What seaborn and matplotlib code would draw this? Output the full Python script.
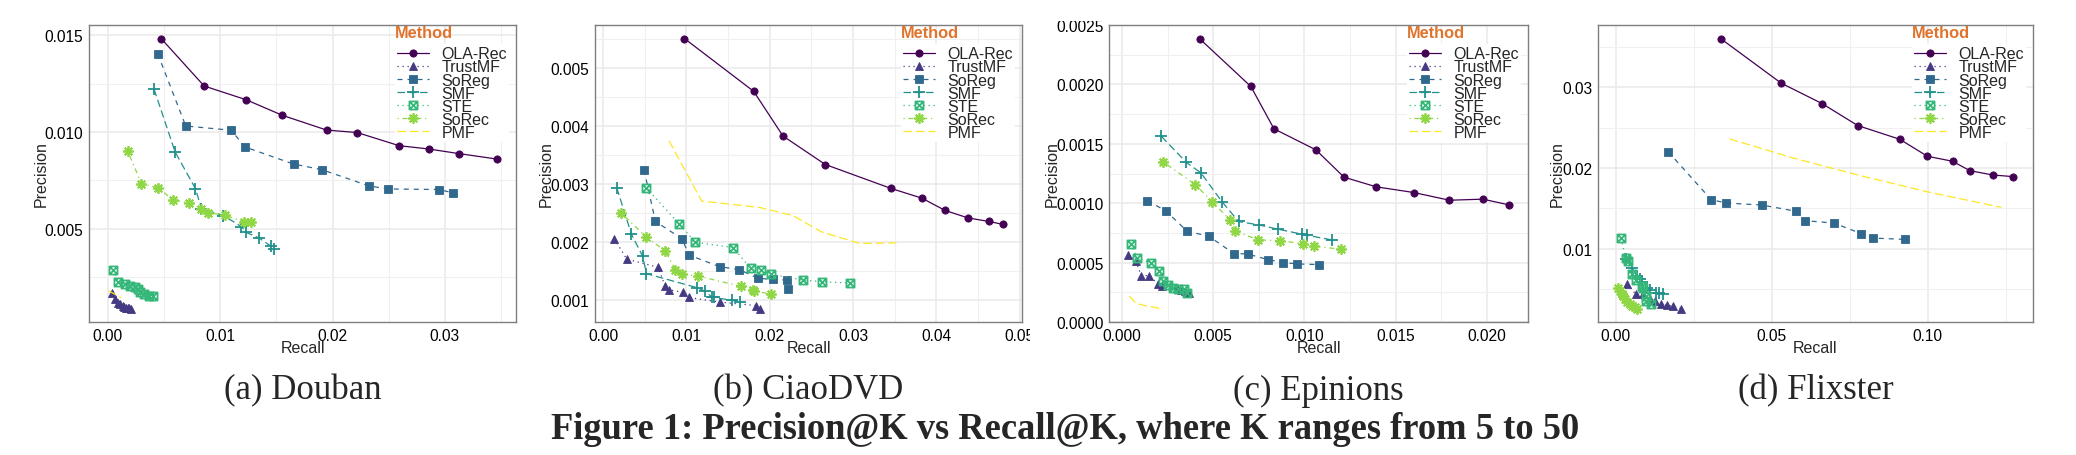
import pandas as pd
import matplotlib
matplotlib.use("Agg")
import matplotlib.pyplot as plt
import matplotlib.transforms as mtransforms
import seaborn as sns
from matplotlib.path import Path
from matplotlib.ticker import FixedLocator, MultipleLocator, FormatStrFormatter

# -----------------------------
# Data
# -----------------------------
METHODS = ["OLA-Rec", "TrustMF", "SoReg", "SMF", "STE", "SoRec", "PMF"]

douban_recall = {
    "OLA-Rec": [0.00475, 0.00858, 0.01231, 0.01555, 0.01947, 0.0222, 0.02593, 0.02855, 0.03125, 0.0346],
    "TrustMF": [0.00042, 0.00068, 0.00089, 0.00113, 0.00134, 0.00148, 0.00163, 0.00178, 0.00193, 0.00205],
    "SoReg": [0.00445, 0.00694, 0.01098, 0.01223, 0.01653, 0.01905, 0.02323, 0.0249, 0.0295, 0.03068],
    "SMF": [0.00412, 0.00599, 0.0078, 0.00834, 0.0103, 0.0119, 0.01231, 0.01344, 0.01451, 0.01475],
    "STE": [0.0005, 0.00095, 0.00154, 0.00202, 0.00243, 0.00267, 0.00291, 0.00326, 0.00365, 0.004],
    "SoRec": [0.00178, 0.003, 0.00451, 0.00582, 0.00724, 0.00828, 0.00896, 0.01039, 0.01214, 0.01276],
    "PMF": [0.00006, 0.0012],
}
douban_precision = {
    "OLA-Rec": [0.01484, 0.01238, 0.01167, 0.01086, 0.0101, 0.00997, 0.00929, 0.00912, 0.00888, 0.0086],
    "TrustMF": [0.00166, 0.00135, 0.00117, 0.00107, 0.00097, 0.00093, 0.0009, 0.00088, 0.00088, 0.00086],
    "SoReg": [0.01405, 0.01031, 0.01009, 0.00922, 0.00834, 0.00805, 0.00721, 0.00705, 0.00702, 0.00685],
    "SMF": [0.01222, 0.00897, 0.00707, 0.00603, 0.00567, 0.0051, 0.0048, 0.00452, 0.00409, 0.00393],
    "STE": [0.00286, 0.00222, 0.00212, 0.00205, 0.00197, 0.00185, 0.00171, 0.0016, 0.00153, 0.0015],
    "SoRec": [0.0090, 0.00733, 0.0071, 0.00647, 0.00633, 0.00603, 0.00583, 0.00569, 0.00536, 0.00533],
    "PMF": [0.00178, 0.00142],
}

ciao_recall = {
    "OLA-Rec": [0.00976, 0.01808, 0.0216, 0.02668, 0.03452, 0.03828, 0.04104, 0.0438, 0.04628, 0.04796],
    "TrustMF": [0.00136, 0.00284, 0.00664, 0.00744, 0.00796, 0.00956, 0.01028, 0.014, 0.0184, 0.01884],
    "SoReg": [0.00492, 0.00628, 0.00948, 0.01032, 0.014, 0.01636, 0.0186, 0.02044, 0.02208, 0.02216],
    "SMF": [0.00164, 0.0034, 0.00476, 0.0052, 0.01124, 0.01224, 0.01304, 0.01332, 0.01552, 0.01648],
    "STE": [0.00516, 0.00912, 0.01108, 0.0156, 0.01772, 0.019, 0.02012, 0.02404, 0.02628, 0.02964],
    "SoRec": [0.0022, 0.0052, 0.00748, 0.00868, 0.00948, 0.0114, 0.01656, 0.01804, 0.01808, 0.02016],
    "PMF": [0.00792, 0.01184, 0.0188, 0.0228, 0.0262, 0.0308, 0.0352],
}
ciao_precision = {
    "OLA-Rec": [0.00551, 0.0046, 0.00383, 0.00334, 0.00293, 0.00276, 0.00255, 0.00242, 0.00236, 0.00231],
    "TrustMF": [0.00206, 0.00171, 0.00157, 0.00124, 0.00118, 0.00114, 0.00105, 0.00097, 0.00091, 0.00086],
    "SoReg": [0.00325, 0.00236, 0.00206, 0.00178, 0.00158, 0.00153, 0.00138, 0.00136, 0.00135, 0.0012],
    "SMF": [0.00294, 0.00214, 0.00176, 0.00146, 0.00122, 0.00116, 0.00106, 0.00105, 0.001, 0.00098],
    "STE": [0.00294, 0.00232, 0.002, 0.00191, 0.00155, 0.00153, 0.00145, 0.00135, 0.00132, 0.0013],
    "SoRec": [0.0025, 0.00209, 0.00185, 0.00153, 0.00145, 0.00142, 0.00124, 0.00118, 0.00116, 0.00111],
    "PMF": [0.00375, 0.00271, 0.0026, 0.00246, 0.00218, 0.00198, 0.00199],
}

epinions_recall = {
    "OLA-Rec": [0.00425, 0.00706, 0.00833, 0.01063, 0.01217, 0.01393, 0.01599, 0.01795, 0.01978, 0.02121],
    "TrustMF": [0.00033, 0.00075, 0.00106, 0.0015, 0.00196, 0.0022, 0.003, 0.00324, 0.00346, 0.00366],
    "SoReg": [0.00139, 0.00242, 0.00357, 0.00476, 0.00613, 0.00688, 0.008, 0.00884, 0.00961, 0.0108],
    "SMF": [0.00216, 0.00353, 0.00432, 0.00547, 0.00639, 0.0075, 0.00856, 0.00988, 0.01014, 0.01151],
    "STE": [0.00049, 0.00082, 0.00159, 0.00205, 0.00227, 0.00254, 0.00282, 0.00309, 0.00342, 0.00355],
    "SoRec": [0.00225, 0.00401, 0.00494, 0.00593, 0.00622, 0.00748, 0.00864, 0.0099, 0.01052, 0.01199],
    "PMF": [0.0004, 0.00077, 0.00132, 0.00177, 0.00223],
}
epinions_precision = {
    "OLA-Rec": [0.002385, 0.001983, 0.001626, 0.001449, 0.001219, 0.001138, 0.00109, 0.001025, 0.001034, 0.000986],
    "TrustMF": [0.000567, 0.000514, 0.00039, 0.00039, 0.00032, 0.000303, 0.000287, 0.00027, 0.000261, 0.000247],
    "SoReg": [0.001022, 0.000933, 0.000764, 0.000722, 0.000576, 0.000573, 0.000525, 0.0005, 0.000489, 0.000483],
    "SMF": [0.001562, 0.001343, 0.001256, 0.001014, 0.000846, 0.000817, 0.000781, 0.000739, 0.00073, 0.000691],
    "STE": [0.00066, 0.000539, 0.000497, 0.00043, 0.000346, 0.000312, 0.000287, 0.000278, 0.000278, 0.000242],
    "SoRec": [0.001348, 0.001157, 0.001014, 0.000857, 0.000764, 0.000691, 0.000685, 0.00066, 0.00064, 0.000612],
    "PMF": [0.000219, 0.000157, 0.000135, 0.000124, 0.000107],
}

flixster_recall = {
    "OLA-Rec": [0.03358, 0.05303, 0.0661, 0.07758, 0.09107, 0.0999, 0.10797, 0.1135, 0.12083, 0.12742],
    "TrustMF": [0.00372, 0.00638, 0.00882, 0.01095, 0.01254, 0.01445, 0.01647, 0.01838, 0.02104],
    "SoReg": [0.01679, 0.0306, 0.03549, 0.04687, 0.05792, 0.06079, 0.06993, 0.07875, 0.08236, 0.09267],
    "SMF": [0.00319, 0.00531, 0.0068, 0.00765, 0.00829, 0.0101, 0.01095, 0.01286, 0.01381, 0.01509],
    "STE": [0.0016, 0.0033, 0.00393, 0.0051, 0.00638, 0.0084, 0.00861, 0.00956, 0.00967, 0.01116],
    "SoRec": [0.00064, 0.00138, 0.00191, 0.00244, 0.00298, 0.00372, 0.00457, 0.00531, 0.00616, 0.0067],
    "PMF": [0.03645, 0.05717, 0.07843, 0.09968, 0.12359],
}
flixster_precision = {
    "OLA-Rec": [0.03603, 0.0305, 0.02798, 0.02525, 0.02355, 0.02145, 0.02083, 0.01967, 0.01913, 0.01893],
    "TrustMF": [0.00562, 0.00438, 0.00434, 0.00376, 0.00347, 0.0031, 0.00302, 0.00285, 0.0026],
    "SoReg": [0.02202, 0.01607, 0.01566, 0.01541, 0.01463, 0.01347, 0.01318, 0.01186, 0.01132, 0.01116],
    "SMF": [0.00872, 0.00756, 0.00657, 0.00624, 0.00591, 0.00517, 0.00492, 0.0045, 0.0045, 0.00442],
    "STE": [0.01128, 0.0088, 0.00847, 0.00686, 0.00616, 0.00541, 0.0052, 0.00417, 0.00355, 0.00314],
    "SoRec": [0.00508, 0.00479, 0.00438, 0.00409, 0.00376, 0.00343, 0.00314, 0.00285, 0.00273, 0.0026],
    "PMF": [0.0236, 0.0212, 0.01905, 0.01707, 0.01512],
}

captions = ["(a) Douban", "(b) CiaoDVD", "(c) Epinions", "(d) Flixster"]
x_ticks = [[0.00, 0.01, 0.02, 0.03],
           [0.00, 0.01, 0.02, 0.03, 0.04, 0.05],
           [0.000, 0.005, 0.010, 0.015, 0.020],
           [0.00, 0.05, 0.10]]
y_ticks = [[0.005, 0.010, 0.015],
           [0.001, 0.002, 0.003, 0.004, 0.005],
           [0.0000, 0.0005, 0.0010, 0.0015, 0.0020, 0.0025],
           [0.01, 0.02, 0.03]]
x_fmt = ["%.2f", "%.2f", "%.3f", "%.2f"]
y_fmt = ["%.3f", "%.3f", "%.4f", "%.2f"]

# -----------------------------
# Style
# -----------------------------
W, H = 2076, 456
AXES_PX = [(89, 26, 516, 323), (595, 26, 1022, 323), (1109, 26, 1528, 323), (1598, 26, 2033, 323)]
YLABEL_X = [49, 554, 1060, 1565]

COLORS = {"OLA-Rec": "#440154", "TrustMF": "#443A83", "SoReg": "#31688E", "SMF": "#21908C",
          "STE": "#35B779", "SoRec": "#8FD744", "PMF": "#FDE725"}

# square with a cross inside (ggplot shape 7)
box_cross = Path(
    [(-1, -1), (1, -1), (1, 1), (-1, 1), (-1, -1), (-1, -1), (1, 1), (-1, 1), (1, -1)],
    [Path.MOVETO, Path.LINETO, Path.LINETO, Path.LINETO, Path.CLOSEPOLY,
     Path.MOVETO, Path.LINETO, Path.MOVETO, Path.LINETO])

STYLES = {
    "OLA-Rec": dict(marker="o", ms=5.2, ls="-"),
    "TrustMF": dict(marker="^", ms=6.0, ls=(0, (1, 3))),
    "SoReg": dict(marker="s", ms=5.2, ls=(0, (4, 4))),
    "SMF": dict(marker="+", ms=8.0, ls=(0, (6, 3))),
    "STE": dict(marker=box_cross, ms=5.8, ls=(0, (1, 3))),
    "SoRec": dict(marker=(8, 2, 0), ms=7.5, ls=(0, (1, 3, 4, 3))),
    "PMF": dict(marker="", ms=0, ls=(0, (7, 3))),
}

TICK_SIZE = 11.2
LABEL_SIZE = 11.5
LEGEND_SIZE = 11.5

sns.set_style("white")
plt.rcParams["font.family"] = ["Liberation Sans", "DejaVu Sans"]
plt.rcParams["axes.unicode_minus"] = False


def fig_rect(left, top, right, bottom):
    return [left / W, 1 - bottom / H, (right - left) / W, (bottom - top) / H]


def draw_panel(ax, recall, precision):
    for m in METHODS:
        df = pd.DataFrame({"Recall": recall[m], "Precision": precision[m]})
        st = STYLES[m]
        filled = m not in ("SMF", "SoRec", "STE")
        sns.lineplot(data=df, x="Recall", y="Precision", ax=ax, sort=False, estimator=None,
                     errorbar=None, color=COLORS[m], linestyle=st["ls"], linewidth=0.9,
                     marker=st["marker"] if st["marker"] else None, markersize=st["ms"],
                     markeredgecolor=COLORS[m], markerfacecolor=COLORS[m] if filled else "none",
                     markeredgewidth=0.6 if filled else 1.3, label=m)


fig = plt.figure(figsize=(W / 100, H / 100), dpi=100)
panels = [(douban_recall, douban_precision), (ciao_recall, ciao_precision),
          (epinions_recall, epinions_precision), (flixster_recall, flixster_precision)]

for i, (rec, prec) in enumerate(panels):
    l, t, r, b = AXES_PX[i]
    ax = fig.add_axes(fig_rect(l, t, r, b))
    draw_panel(ax, rec, prec)

    xstep = x_ticks[i][1] - x_ticks[i][0]
    ystep = y_ticks[i][1] - y_ticks[i][0]
    ax.xaxis.set_major_locator(FixedLocator(x_ticks[i]))
    ax.yaxis.set_major_locator(FixedLocator(y_ticks[i]))
    ax.xaxis.set_minor_locator(MultipleLocator(xstep / 2))
    ax.yaxis.set_minor_locator(MultipleLocator(ystep / 2))
    ax.xaxis.set_major_formatter(FormatStrFormatter(x_fmt[i]))
    ax.yaxis.set_major_formatter(FormatStrFormatter(y_fmt[i]))
    if i == 2:
        ax.set_ylim(0, 0.0025)

    ax.grid(which="major", color="#EBEBEB", linewidth=1.2)
    ax.grid(which="minor", color="#F0F0F0", linewidth=0.8)
    ax.set_axisbelow(True)
    for sp in ax.spines.values():
        sp.set_color("#7F7F7F")
        sp.set_linewidth(1.0)
    ax.tick_params(which="major", direction="out", length=3, width=0.8, color="#333333",
                   labelsize=TICK_SIZE, labelcolor="black", pad=1.0)
    ax.tick_params(which="minor", length=0)

    ax.set_xlabel("Recall", fontsize=LABEL_SIZE)
    ax.set_ylabel("Precision", fontsize=LABEL_SIZE)
    ax.xaxis.set_label_coords(0.5, 1 - 341 / H,
                              transform=mtransforms.blended_transform_factory(ax.transAxes, fig.transFigure))
    ax.yaxis.set_label_coords(YLABEL_X[i] / W, 0.5,
                              transform=mtransforms.blended_transform_factory(fig.transFigure, ax.transAxes))

    # legend: title drawn as text, entries packed tight like ggplot
    handles, labels = ax.get_legend_handles_labels()
    key_left = r - 118
    leg = ax.legend(handles, labels, loc="upper left",
                    bbox_to_anchor=((key_left - 3) / W, 1 - 45 / H), bbox_transform=fig.transFigure,
                    frameon=True, facecolor="white", edgecolor="none", framealpha=1.0,
                    fontsize=LEGEND_SIZE, handlelength=2.0, handletextpad=0.75, labelspacing=-0.12,
                    borderpad=0.15, borderaxespad=0)
    leg.get_frame().set_boxstyle("square", pad=0)
    fig.text((key_left - 3) / W, 1 - 33 / H, "Method", color="#E0742C", fontsize=11.8,
             fontweight="bold", ha="left", va="center")

    # subfigure caption
    fig.text((l + r) / 2 / W, 1 - 391 / H, captions[i], ha="center", va="center",
             family="Liberation Serif", fontsize=25)

    # the original subfigures crop the edge labels
    if i == 1:
        clip = mtransforms.TransformedBbox(
            mtransforms.Bbox.from_extents(0, 0, 1030 / W, 1), fig.transFigure)
        for lab in ax.get_xticklabels():
            lab.set_clip_box(clip)
            lab.set_clip_on(True)
    if i == 2:
        clip = mtransforms.TransformedBbox(
            mtransforms.Bbox.from_extents(0, 0, 1, 1 - 22 / H), fig.transFigure)
        for lab in ax.get_yticklabels():
            lab.set_clip_box(clip)
            lab.set_clip_on(True)

fig.text(1065 / W, 1 - 430 / H, "Figure 1: Precision@K vs Recall@K, where K ranges from 5 to 50",
         ha="center", va="center", family="Liberation Serif", fontweight="bold", fontsize=26.3)

fig.savefig("out.png", dpi=100)
